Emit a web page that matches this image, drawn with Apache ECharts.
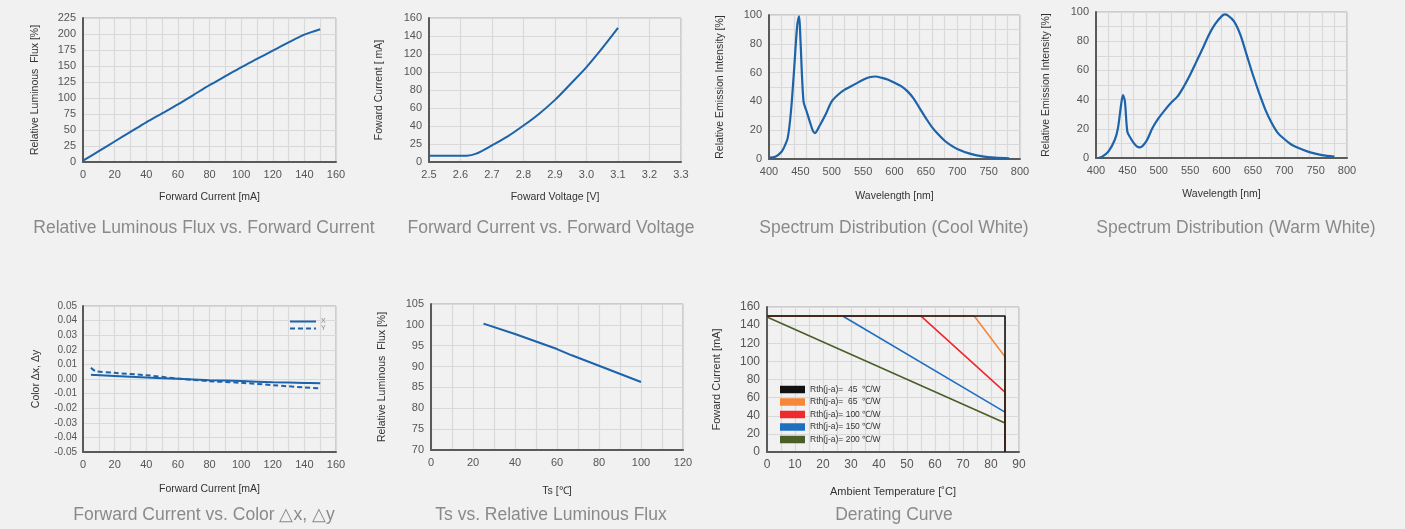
<!DOCTYPE html>
<html><head><meta charset="utf-8">
<script src="https://cdn.jsdelivr.net/npm/echarts@6/dist/echarts.min.js"></script>
<style>html,body{margin:0;padding:0;background:#f1f1f1;}#c{width:1405px;height:529px;}</style>
</head><body><div id="c"></div>
<script>
// ---------- DATA ----------
const fluxCurrentX = [0, 10, 20, 30, 40, 50, 60, 70, 80, 90, 100, 110, 120, 130, 140, 150];
const fluxCurrentY = [2, 17, 32, 47, 62, 76, 90, 105, 120, 134, 148, 161, 174, 187, 199, 207.5];

const ivVoltage = [2.5, 2.62, 2.65, 2.7, 2.75, 2.8, 2.85, 2.9, 2.95, 3.0, 3.05, 3.1];
const ivCurrent = [7, 7, 9.3, 18.5, 28.5, 40.5, 53.7, 69, 87, 105.5, 126.5, 149];
const ivTickLabels = ['0', '25', '40', '60', '80', '100', '120', '140', '160'];

const coolNm = [400, 410, 420, 425, 430, 435, 440, 445, 448, 450, 455, 460, 465, 470, 473, 480, 490, 500, 510, 520, 530, 540, 550, 560, 570, 580, 590, 600, 610, 620, 630, 640, 650, 660, 670, 680, 690, 700, 720, 740, 760, 783];
const coolVal = [1, 1.5, 5, 9, 15, 33, 62, 93, 99, 84, 40, 33, 26, 19.5, 18, 22.6, 30.7, 40, 44.6, 48, 50.3, 52.7, 55, 56.8, 57.3, 56.3, 55, 53, 50.8, 47.3, 42.3, 35.3, 28.4, 22, 17, 12.7, 9.5, 7, 3.7, 1.8, 0.9, 0.5];

const warmNm = [404, 410, 420, 430, 435, 440, 443, 446, 450, 455, 460, 465, 470, 480, 490, 500, 510, 520, 530, 540, 550, 560, 570, 580, 590, 600, 605, 610, 620, 630, 640, 650, 660, 670, 680, 690, 700, 710, 720, 740, 760, 780];
const warmVal = [0, 1, 4.6, 12.5, 20.5, 36.5, 43, 39, 18, 13.7, 10.3, 8, 7.3, 11.4, 20.5, 27.4, 33, 38, 42.2, 49, 57, 66, 75, 84.5, 91.8, 97, 98.4, 97.7, 93.6, 84.5, 70.8, 57, 44.5, 33, 24, 17, 13, 9.6, 7.3, 4, 2, 1];

const colorCurrent = [5, 8, 20, 40, 60, 80, 100, 120, 140, 150];
const colorDx = [0.0029, 0.0027, 0.0021, 0.0011, 0.0001, -0.0008, -0.0014, -0.0022, -0.0027, -0.0029];
const colorDy = [0.0077, 0.0054, 0.0042, 0.0026, 0.0003, -0.0015, -0.0026, -0.0042, -0.0058, -0.0065];

const tsTemp = [25, 40, 50, 60, 67, 80, 100];
const tsFlux = [100.3, 97.8, 96, 94.2, 92.7, 90.2, 86.3];

const deratingNames = ['Rth(j-a)=  45  ℃/W', 'Rth(j-a)=  65  ℃/W', 'Rth(j-a)= 100 ℃/W', 'Rth(j-a)= 150 ℃/W', 'Rth(j-a)= 200 ℃/W'];
const deratingColors = ['#111111', '#f5873a', '#ee2a2f', '#1f6fc0', '#4a5e28'];
const deratingTemp = [
  [0, 85, 85],
  [0, 74, 85, 85],
  [0, 55, 85, 85],
  [0, 27, 85, 85],
  [0, 85, 85]
];
const deratingCurrent = [
  [150, 150, 0],
  [150, 150, 105, 0],
  [150, 150, 66, 0],
  [150, 150, 44, 0],
  [149, 32, 0]
];

const titles = [
  'Relative Luminous Flux vs. Forward Current',
  'Forward Current vs. Forward Voltage',
  'Spectrum Distribution (Cool White)',
  'Spectrum Distribution (Warm White)',
  'Forward Current vs. Color △x, △y',
  'Ts vs. Relative Luminous Flux',
  'Derating Curve'
];

// ---------- LAYOUT / STYLE ----------
const zip = (a, b) => a.map((v, i) => [v, b[i]]);
const BLUE = '#1d63aa';
const FONT = 'Liberation Sans';
const grids = [
  {left: 83, top: 18, width: 253, height: 144},
  {left: 429, top: 18, width: 252, height: 144},
  {left: 769, top: 15, width: 251, height: 144},
  {left: 1096, top: 12, width: 251, height: 146},
  {left: 83, top: 306, width: 253, height: 146},
  {left: 431, top: 304, width: 252, height: 146},
  {left: 767, top: 307, width: 252, height: 145}
];
const titlePos = [[199, 214], [546, 214], [889, 214], [1231, 214], [199, 501], [546, 501], [889, 501]];

function axis(gi, min, max, interval, name, nameGap, extra) {
  const a = {
    type: 'value', gridIndex: gi, min: min, max: max, interval: interval,
    name: name, nameLocation: 'middle', nameGap: nameGap,
    nameTextStyle: {fontFamily: FONT, fontSize: 10.5, color: '#333'},
    axisLine: {show: true, onZero: false, lineStyle: {color: '#5a5a5a', width: 2}},
    axisTick: {show: false},
    axisLabel: {fontFamily: FONT, fontSize: 11, color: '#555', margin: 7},
    splitLine: {show: true, lineStyle: {color: '#d9d9d9', width: 1.2}}
  };
  return Object.assign(a, extra || {});
}
function hiddenAxis(gi, min, max, interval, pos) {
  return {type: 'value', gridIndex: gi, min: min, max: max, interval: interval, position: pos,
    axisLine: {show: false}, axisTick: {show: false}, axisLabel: {show: false},
    splitLine: {show: true, lineStyle: {color: '#d9d9d9', width: 1.2}}};
}
const minor = (n) => ({minorTick: {show: false, splitNumber: n}, minorSplitLine: {show: true, lineStyle: {color: '#d9d9d9', width: 1.2}}});

const xAxes = [
  axis(0, 0, 160, 20, 'Forward Current [mA]', 30, minor(2)),
  axis(1, 2.5, 3.3, 0.1, 'Foward Voltage [V]', 30, {axisLabel: {fontFamily: FONT, fontSize: 11, color: '#555', margin: 7, formatter: v => v.toFixed(1)}}),
  axis(2, 400, 800, 50, 'Wavelength [nm]', 32, {splitLine: {show: false}}),
  axis(3, 400, 800, 50, 'Wavelength [nm]', 31, {splitLine: {show: false}}),
  axis(4, 0, 160, 20, 'Forward Current [mA]', 32, minor(2)),
  axis(5, 0, 120, 20, 'Ts [℃]', 36, minor(2)),
  axis(6, 0, 90, 10, 'Ambient Temperature [˚C]', 34, Object.assign({nameTextStyle: {fontFamily: FONT, fontSize: 11, color: '#333'}, axisLabel: {fontFamily: FONT, fontSize: 12, color: '#555', margin: 7}}, minor(2))),
  hiddenAxis(2, 400, 800, 20, 'top'),
  hiddenAxis(3, 400, 800, 20, 'top')
];
const yAxes = [
  axis(0, 0, 225, 25, 'Relative Luminous  Flux [%]', 42),
  axis(1, 0, 160, 20, 'Foward Current [ mA]', 44, {axisLabel: {fontFamily: FONT, fontSize: 11, color: '#555', margin: 7, formatter: v => ivTickLabels[Math.round(v / 20)]}}),
  axis(2, 0, 100, 20, 'Relative Emission Intensity [%]', 43, minor(2)),
  axis(3, 0, 100, 20, 'Relative Emission Intensity [%]', 44, minor(2)),
  axis(4, -0.05, 0.05, 0.01, 'Color Δx, Δy', 41, {axisLabel: {fontFamily: FONT, fontSize: 10, color: '#555', margin: 6, formatter: v => v.toFixed(2)}}),
  axis(5, 70, 105, 5, 'Relative Luminous  Flux [%]', 43),
  axis(6, 0, 160, 20, 'Foward Current [mA]', 45, {nameTextStyle: {fontFamily: FONT, fontSize: 11, color: '#333'}, axisLabel: {fontFamily: FONT, fontSize: 12, color: '#555', margin: 7}})
];

const line = (xi, yi, data, extra) => Object.assign({
  type: 'line', xAxisIndex: xi, yAxisIndex: yi, data: data, symbol: 'none', showSymbol: false,
  lineStyle: {color: BLUE, width: 2}, itemStyle: {color: BLUE}, silent: true, animation: false
}, extra || {});

const series = [
  line(0, 0, zip(fluxCurrentX, fluxCurrentY), {smooth: 0.3}),
  line(1, 1, zip(ivVoltage, ivCurrent), {smooth: 0.3}),
  line(2, 2, zip(coolNm, coolVal), {smooth: 0.3, lineStyle: {color: BLUE, width: 2.2}}),
  line(3, 3, zip(warmNm, warmVal), {smooth: 0.3, lineStyle: {color: BLUE, width: 2.2}}),
  line(4, 4, zip(colorCurrent, colorDx), {name: 'X', smooth: 0.3}),
  line(4, 4, zip(colorCurrent, colorDy), {name: 'Y', smooth: 0.3, lineStyle: {color: BLUE, width: 2, type: [5, 3]}}),
  line(5, 5, zip(tsTemp, tsFlux))
];
// derating: draw colored first, black on top
for (let i = deratingNames.length - 1; i >= 0; i--) {
  series.push(line(6, 6, zip(deratingTemp[i], deratingCurrent[i]), {
    name: deratingNames[i],
    lineStyle: {color: deratingColors[i], width: 1.6},
    itemStyle: {color: deratingColors[i]}
  }));
}

const solidIcon = 'path://M0,0h26v2h-26z';
const dashedIcon = 'path://M0,0h5v2h-5z M8,0h5v2h-5z M16,0h5v2h-5z M24,0h2v2h-2z';

const option = {
  backgroundColor: '#f1f1f1',
  animation: false,
  grid: grids.map(g => Object.assign({show: true, borderColor: '#a9a9a9', borderWidth: 1, backgroundColor: 'transparent'}, g)),
  title: titles.map((t, i) => ({
    text: t, left: titlePos[i][0], top: titlePos[i][1], textAlign: 'center',
    textStyle: {fontFamily: FONT, fontSize: 17.5, fontWeight: 'normal', color: '#8a8a8a'}
  })),
  legend: [
    {data: [{name: 'X', icon: solidIcon}, {name: 'Y', icon: dashedIcon}], left: 285, top: 313, orient: 'vertical', itemGap: 0, itemWidth: 26, itemHeight: 2,
      textStyle: {fontFamily: FONT, fontSize: 7, color: '#888'}, selectedMode: false},
    {data: deratingNames, left: 775, top: 380, orient: 'vertical', itemGap: 3.5, itemWidth: 25, itemHeight: 7.5, icon: 'rect',
      textStyle: {fontFamily: FONT, fontSize: 8.5, color: '#333'}, selectedMode: false}
  ],
  xAxis: xAxes,
  yAxis: yAxes,
  series: series
};
const chart = echarts.init(document.getElementById('c'), null, {renderer: 'canvas'});
chart.setOption(option);
</script></body></html>
